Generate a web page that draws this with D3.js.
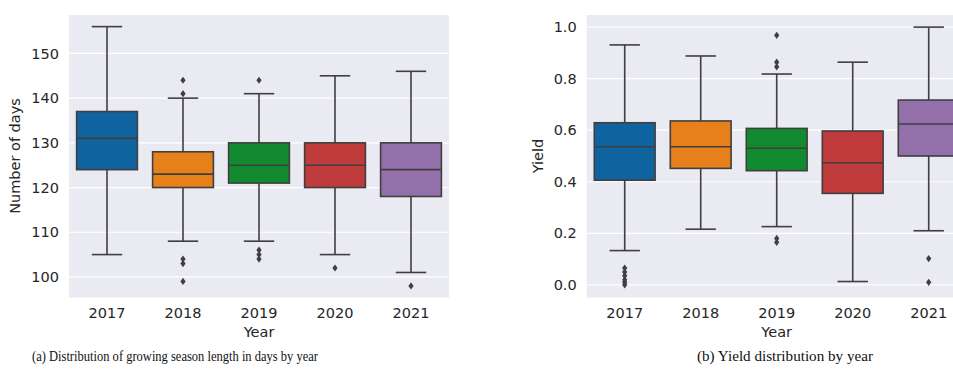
<!DOCTYPE html>
<html>
<head>
<meta charset="utf-8">
<script src="https://cdn.jsdelivr.net/npm/d3@7"></script>
<style>
  body { margin: 0; background: #fff; }
  svg { display: block; }
</style>
</head>
<body>
<svg id="fig" width="953" height="373"></svg>
<script>
// years on the x axis of both panels
const years = ['2017', '2018', '2019', '2020', '2021'];
const boxColors = ['#0f64a0', '#e6801a', '#128a30', '#c03b3b', '#9470ab'];

// growing season length (days): whisker low, Q1, median, Q3, whisker high, outliers
const daysLow = [105, 108, 108, 105, 101];
const daysQ1 = [124, 120, 121, 120, 118];
const daysMed = [131, 123, 125, 125, 124];
const daysQ3 = [137, 128, 130, 130, 130];
const daysHigh = [156, 140, 141, 145, 146];
const daysOutliers = [[], [144, 141, 104, 103, 99], [144, 106, 105, 104], [102], [98]];
const daysTicks = [100, 110, 120, 130, 140, 150];

// yield
const yieldLow = [0.133, 0.216, 0.226, 0.013, 0.21];
const yieldQ1 = [0.406, 0.452, 0.443, 0.355, 0.5];
const yieldMed = [0.536, 0.536, 0.53, 0.474, 0.624];
const yieldQ3 = [0.629, 0.636, 0.607, 0.597, 0.717];
const yieldHigh = [0.931, 0.888, 0.818, 0.864, 1.0];
const yieldOutliers = [[0.065, 0.05, 0.035, 0.02, 0.01, 0.0], [], [0.968, 0.864, 0.846, 0.18, 0.165], [], [0.102, 0.01]];
const yieldTicks = [0.0, 0.2, 0.4, 0.6, 0.8, 1.0];

const lineCol = '#3f3f3f';
const textCol = '#262626';
const svg = d3.select('#fig');

function boxPanel(opt) {
    var x = d3.scaleBand().domain(years).range([opt.left, opt.left + 380]).paddingInner(0.2).paddingOuter(0.1);
    var y = d3.scaleLinear().domain(opt.domain).range([297.5, 15]);
    var g = svg.append('g');

    //background
    g.append('rect')
        .attr('x', opt.left).attr('y', 15)
        .attr('width', 380).attr('height', 282.5)
        .attr('fill', '#eaeaf2');

    //grid
    g.selectAll('line.grid').data(opt.ticks).enter().append('line')
        .attr('x1', opt.left).attr('x2', opt.left + 380)
        .attr('y1', d => y(d)).attr('y2', d => y(d))
        .attr('stroke', '#fff').attr('stroke-width', 1.2);

    //y tick labels
    g.selectAll('text.ytick').data(opt.ticks).enter().append('text')
        .attr('x', opt.left - 10).attr('y', d => y(d))
        .attr('dy', '0.35em')
        .attr('text-anchor', 'end')
        .attr('font-family', 'DejaVu Sans').attr('font-size', 14.5)
        .attr('fill', textCol)
        .text(d => opt.fmt(d));

    //x tick labels
    g.selectAll('text.xtick').data(years).enter().append('text')
        .attr('x', d => x(d) + x.bandwidth() / 2).attr('y', 318)
        .attr('text-anchor', 'middle')
        .attr('font-family', 'DejaVu Sans').attr('font-size', 14.5)
        .attr('fill', textCol)
        .text(d => d);

    g.append('text')
        .attr('x', opt.left + 190).attr('y', 337)
        .attr('text-anchor', 'middle')
        .attr('font-family', 'DejaVu Sans').attr('font-size', 14.5)
        .attr('fill', textCol)
        .text('Year');

    g.append('text')
        .attr('transform', 'translate(' + opt.labelX + ',156)rotate(-90)')
        .attr('text-anchor', 'middle')
        .attr('font-family', 'DejaVu Sans').attr('font-size', 14.5)
        .attr('fill', textCol)
        .text(opt.label);

    var bw = x.bandwidth();
    years.forEach(function(yr, i) {
        var cx = x(yr) + bw / 2;
        var bg = g.append('g');
        //whiskers
        bg.append('line').attr('x1', cx).attr('x2', cx)
            .attr('y1', y(opt.high[i])).attr('y2', y(opt.q3[i]));
        bg.append('line').attr('x1', cx).attr('x2', cx)
            .attr('y1', y(opt.q1[i])).attr('y2', y(opt.low[i]));
        bg.append('line').attr('x1', cx - bw / 4).attr('x2', cx + bw / 4)
            .attr('y1', y(opt.high[i])).attr('y2', y(opt.high[i]));
        bg.append('line').attr('x1', cx - bw / 4).attr('x2', cx + bw / 4)
            .attr('y1', y(opt.low[i])).attr('y2', y(opt.low[i]));
        //box
        bg.append('rect')
            .attr('x', x(yr)).attr('width', bw)
            .attr('y', y(opt.q3[i])).attr('height', y(opt.q1[i]) - y(opt.q3[i]))
            .attr('fill', boxColors[i]);
        bg.append('line').attr('x1', x(yr)).attr('x2', x(yr) + bw)
            .attr('y1', y(opt.med[i])).attr('y2', y(opt.med[i]));
        bg.selectAll('line').attr('stroke', lineCol).attr('stroke-width', 1.6);
        bg.select('rect').attr('stroke', lineCol).attr('stroke-width', 1.6);
        //outliers
        bg.selectAll('path').data(opt.outliers[i]).enter().append('path')
            .attr('d', 'M0,-3.6L2.6,0L0,3.6L-2.6,0Z')
            .attr('transform', d => 'translate(' + cx + ',' + y(d) + ')')
            .attr('fill', lineCol);
    });
}

boxPanel({left: 69, domain: [95.4, 158.6], ticks: daysTicks, fmt: d3.format('d'),
    low: daysLow, q1: daysQ1, med: daysMed, q3: daysQ3, high: daysHigh, outliers: daysOutliers,
    label: 'Number of days', labelX: 20});

boxPanel({left: 586.7, domain: [-0.049, 1.047], ticks: yieldTicks, fmt: d3.format('.1f'),
    low: yieldLow, q1: yieldQ1, med: yieldMed, q3: yieldQ3, high: yieldHigh, outliers: yieldOutliers,
    label: 'Yield', labelX: 543});

//captions (condensed Times look)
svg.append('text')
    .attr('x', 32).attr('y', 361)
    .attr('font-family', 'Liberation Serif').attr('font-size', 15)
    .attr('textLength', 286).attr('lengthAdjust', 'spacingAndGlyphs')
    .attr('fill', '#111')
    .text('(a) Distribution of growing season length in days by year');

svg.append('text')
    .attr('x', 697).attr('y', 361)
    .attr('font-family', 'Liberation Serif').attr('font-size', 15)
    .attr('textLength', 176).attr('lengthAdjust', 'spacingAndGlyphs')
    .attr('fill', '#111')
    .text('(b) Yield distribution by year');
</script>
</body>
</html>
